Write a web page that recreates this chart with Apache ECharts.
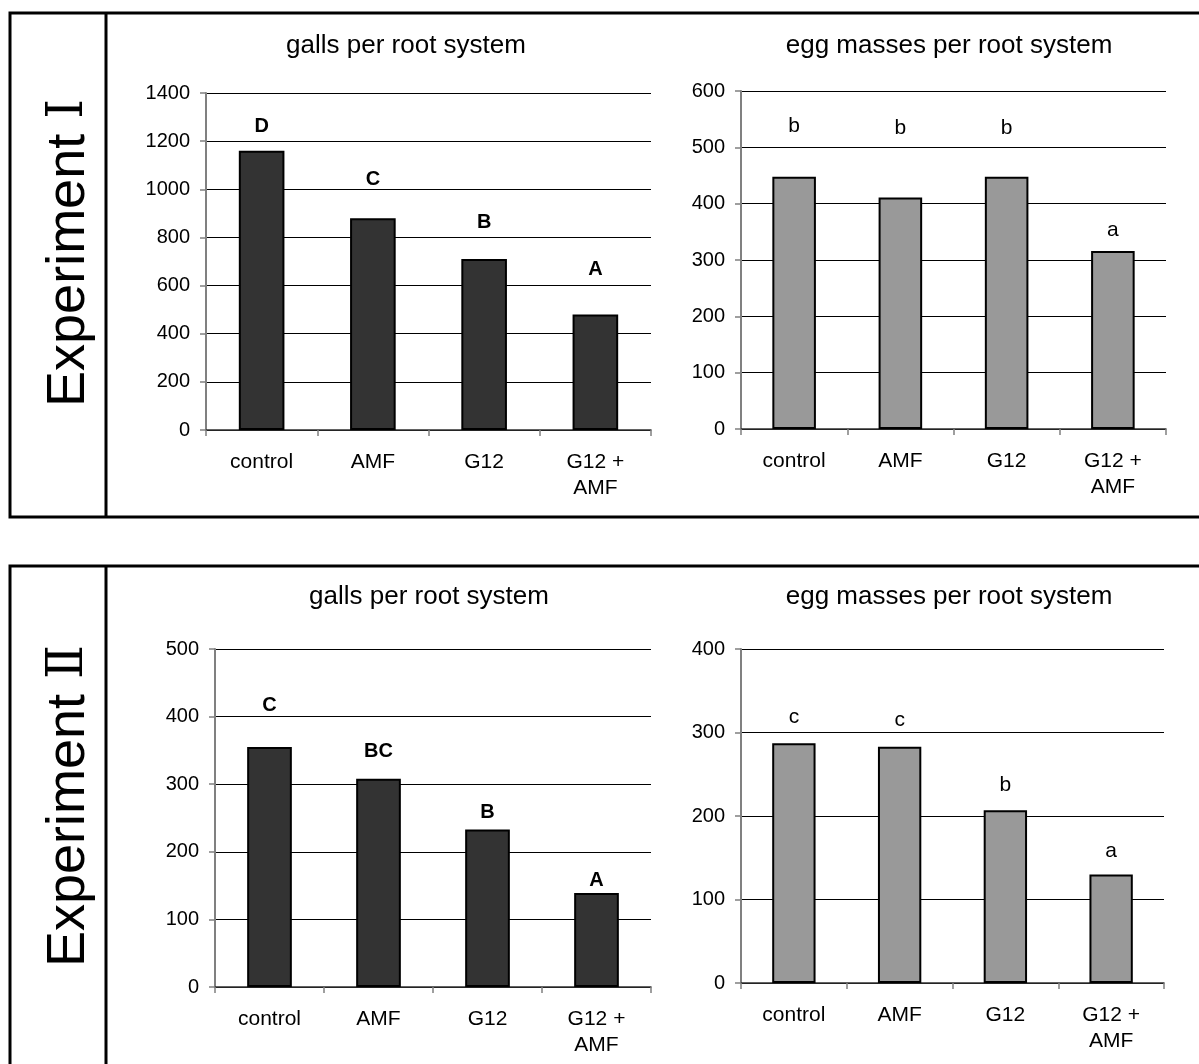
<!DOCTYPE html>
<html>
<head>
<meta charset="utf-8">
<script src="https://cdn.jsdelivr.net/npm/echarts@6/dist/echarts.min.js"></script>
<style>
  html, body { margin: 0; padding: 0; background: #fff; }
  #chart { width: 1199px; height: 1064px; }
</style>
</head>
<body>
<div id="chart"></div>
<script>
// Treatments shared by all four bar charts
const categories = ['control', 'AMF', 'G12', 'G12 +\nAMF'];

// Experiment I
const exp1Galls = [1160, 880, 710, 480];
const exp1GallLetters = ['D', 'C', 'B', 'A'];
const exp1Eggs = [448, 411, 448, 316];
const exp1EggLetters = ['b', 'b', 'b', 'a'];

// Experiment II
const exp2Galls = [355, 308, 233, 139];
const exp2GallLetters = ['C', 'BC', 'B', 'A'];
const exp2Eggs = [287, 283, 207, 130];
const exp2EggLetters = ['c', 'c', 'b', 'a'];

// Value axis ranges: [max, step]
const exp1GallAxis = [1400, 200];
const exp1EggAxis = [600, 100];
const exp2GallAxis = [500, 100];
const exp2EggAxis = [400, 100];

const FONT = '"Liberation Sans", Arial, Helvetica, sans-serif';
const DARK = '#333333';
const GREY = '#999999';

// Layout of each sub-chart; `lift` is the gap between bar top and its letter
const panels = [
  { title: 'galls per root system', values: exp1Galls, letters: exp1GallLetters, axis: exp1GallAxis,
    fill: DARK, bold: true, grid: { left: 206, top: 93, width: 445, height: 337 },
    lift: [14, 29, 27, 35], titleX: 406, titleY: 46 },
  { title: 'egg masses per root system', values: exp1Eggs, letters: exp1EggLetters, axis: exp1EggAxis,
    fill: GREY, bold: false, grid: { left: 741, top: 91, width: 425, height: 338 },
    lift: [40, 59, 38, 10], titleX: 949, titleY: 46 },
  { title: 'galls per root system', values: exp2Galls, letters: exp2GallLetters, axis: exp2GallAxis,
    fill: DARK, bold: true, grid: { left: 215, top: 649, width: 436, height: 338 },
    lift: [32, 17, 7, 3], titleX: 429, titleY: 597 },
  { title: 'egg masses per root system', values: exp2Eggs, letters: exp2EggLetters, axis: exp2EggAxis,
    fill: GREY, bold: false, grid: { left: 741, top: 649, width: 423, height: 334 },
    lift: [16, 16, 14, 13], titleX: 949, titleY: 597 }
];

const grids = [], xAxes = [], yAxes = [], series = [], graphics = [];

panels.forEach((p, k) => {
  grids.push(Object.assign({ containLabel: false, outerBoundsMode: 'none' }, p.grid));

  xAxes.push({
    type: 'category', gridIndex: k, data: categories,
    axisLine: { lineStyle: { color: '#303030', width: 1.5 } },
    axisTick: { show: true, length: 6, lineStyle: { color: '#808080', width: 1.5 } },
    axisLabel: { interval: 0, color: '#000', fontFamily: FONT, fontSize: 21, lineHeight: 26, margin: 19 },
    splitLine: { show: false }
  });

  yAxes.push({
    type: 'value', gridIndex: k, min: 0, max: p.axis[0], interval: p.axis[1],
    axisLine: { show: true, lineStyle: { color: '#808080', width: 2 } },
    axisTick: { show: true, length: 6, lineStyle: { color: '#808080', width: 1.5 } },
    axisLabel: { color: '#000', fontFamily: FONT, fontSize: 20, margin: 16, formatter: v => String(v) },
    splitLine: { show: true, lineStyle: { color: '#000', width: 1 } }
  });

  series.push({
    type: 'bar', xAxisIndex: k, yAxisIndex: k, barWidth: '41%',
    itemStyle: { color: p.fill, borderColor: '#000', borderWidth: 2 },
    data: p.values.map((v, i) => ({
      value: v,
      label: {
        show: true, position: 'top', distance: p.lift[i], formatter: p.letters[i],
        color: '#000', fontFamily: FONT,
        fontSize: p.bold ? 20 : 21, fontWeight: p.bold ? 'bold' : 'normal'
      }
    })),
    emphasis: { disabled: true },
    animation: false
  });

  graphics.push({
    type: 'text', x: p.titleX, y: p.titleY, silent: true,
    style: { text: p.title, fill: '#000', font: '26px ' + FONT, textAlign: 'center', textVerticalAlign: 'middle' }
  });
});

// Framed rows with the rotated experiment names
const frames = [
  { y: 13, h: 504, numeral: '\u2160' },
  { y: 566, h: 512, numeral: '\u2161' }
];
frames.forEach(f => {
  graphics.push({
    type: 'rect', silent: true,
    shape: { x: 10, y: f.y, width: 1210, height: f.h },
    style: { fill: 'none', stroke: '#000', lineWidth: 3 }
  });
  graphics.push({
    type: 'line', silent: true,
    shape: { x1: 106, y1: f.y, x2: 106, y2: f.y + f.h },
    style: { stroke: '#000', lineWidth: 3 }
  });
  graphics.push({
    type: 'text', silent: true, x: 69, y: f.y + 240, rotation: Math.PI / 2,
    style: {
      text: '{w|Experiment }{n|' + f.numeral + '}',
      fill: '#000', textAlign: 'center', textVerticalAlign: 'middle',
      rich: {
        w: { fontFamily: FONT, fontSize: 54, fill: '#000' },
        n: { fontFamily: '"DejaVu Serif", "Liberation Serif", serif', fontSize: 50, fill: '#000' }
      }
    }
  });
});

const chart = echarts.init(document.getElementById('chart'), null, { renderer: 'canvas' });
chart.setOption({
  backgroundColor: '#fff',
  animation: false,
  grid: grids,
  xAxis: xAxes,
  yAxis: yAxes,
  series: series,
  graphic: graphics
});
</script>
</body>
</html>
